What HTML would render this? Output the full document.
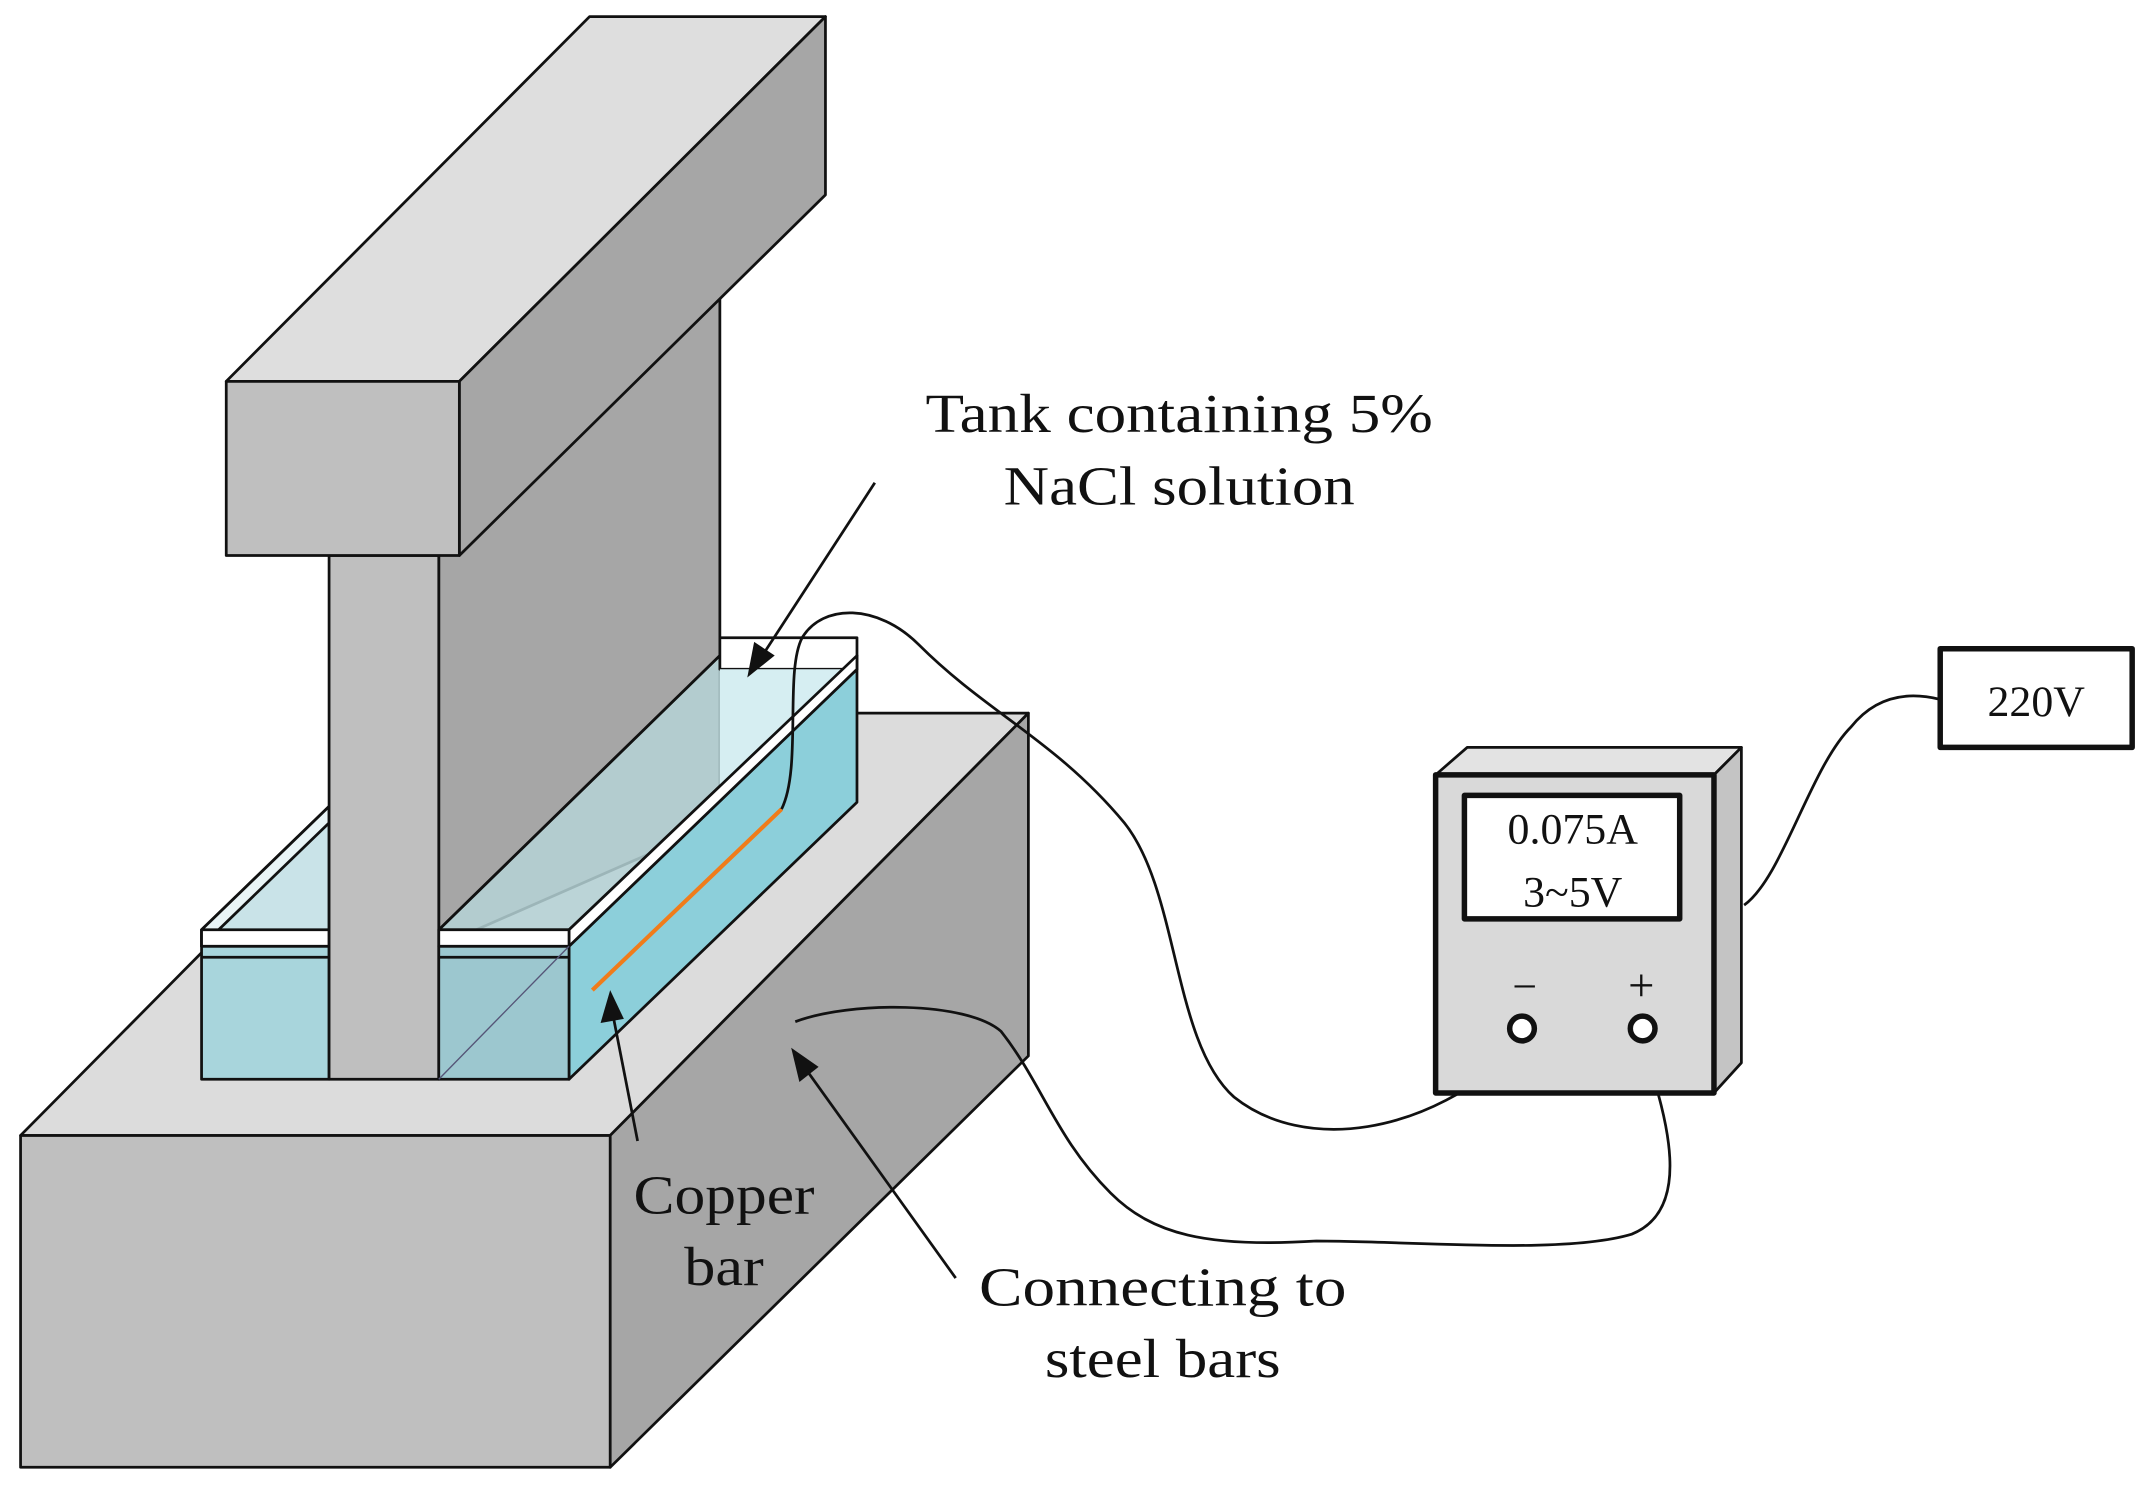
<!DOCTYPE html>
<html><head><meta charset="utf-8"><style>html,body{margin:0;padding:0;background:#fff}svg{display:block}</style></head>
<body>
<svg width="2150" height="1488" viewBox="0 0 1568 1085" xmlns="http://www.w3.org/2000/svg" font-family="Liberation Serif, serif">
<g stroke="#111" stroke-width="2" stroke-linejoin="round">
<!-- base -->
<polygon points="15,828 320,520 750,520 445,828" fill="#dcdcdc"/>
<polygon points="445,828 750,520 750,770 445,1070" fill="#a6a6a6"/>
<rect x="15" y="828" width="430" height="242" fill="#bfbfbf"/>
<!-- column dark side -->
<polygon points="320,405 525,215 525,600 320,690" fill="#a6a6a6"/>
<!-- left tank -->
<polygon points="147,678 240,588 240,690 147,690" fill="#c9e3e8"/>
<polygon points="147,678 240,588 240,600 147,690" fill="#fff" fill-opacity="0.6"/>
<rect x="147" y="690" width="93" height="97" fill="#a8d5dc"/>
<rect x="147" y="678" width="93" height="12" fill="#fff"/>
<line x1="147" y1="698" x2="240" y2="698"/>
<!-- column front -->
<rect x="240" y="405" width="80" height="382" fill="#bfbfbf"/>
<!-- right tank -->
<polygon points="320,678 525,478 625,478 415,678" fill="#b5d2d6" fill-opacity="0.85"/>
<polygon points="525,465 625,465 625,488 525,488" fill="#fff"/>
<polygon points="525,488 625,488 625,585 525,585" fill="#d6eef2" stroke="none"/>
<polygon points="415,690 625,488 625,585 415,787" fill="#8ccfda"/>
<polygon points="415,678 625,478 625,488 415,690" fill="#fff"/>
<rect x="320" y="690" width="95" height="97" fill="#9cc7cf"/>
<rect x="320" y="678" width="95" height="12" fill="#fff"/>
<line x1="320" y1="698" x2="415" y2="698"/>
<line x1="320" y1="787" x2="415" y2="690" stroke-width="1" stroke="#557"/>
<line x1="320" y1="678" x2="525" y2="478" />
</g>
<!-- beam -->
<g stroke="#111" stroke-width="2" stroke-linejoin="round">
<polygon points="165,278 430,12 602,12 335,278" fill="#dedede"/>
<polygon points="335,278 602,12 602,142 335,405" fill="#a6a6a6"/>
<rect x="165" y="278" width="170" height="127" fill="#bfbfbf"/>
</g>
<!-- copper bar -->
<line x1="432" y1="722" x2="570" y2="590" stroke="#f07c1a" stroke-width="3"/>
<!-- wires -->
<g fill="none" stroke="#111" stroke-width="2">
<path d="M570,590 C585,560 572,490 585,465 C600,440 640,440 670,470 C720,520 770,540 820,600 C860,650 855,760 900,800 C950,840 1040,830 1110,762"/>
<path d="M1198,760 C1210,800 1240,880 1190,900 C1140,915 1030,905 960,905 C880,910 840,900 810,870 C770,830 760,790 730,752 C705,730 620,730 580,745"/>
<path d="M1272,660 C1300,640 1320,560 1350,530 C1370,505 1395,505 1415,510"/>
<line x1="638" y1="352" x2="556" y2="478"/>
<line x1="465" y1="832" x2="447" y2="740"/>
<line x1="697" y1="932" x2="588" y2="780"/>
</g>
<g fill="#111">
<polygon points="545,494 550,468 565,478"/>
<polygon points="445,722 438,746 455,743"/>
<polygon points="577,764 583,789 597,778"/>
</g>
<!-- meter -->
<g stroke="#111" stroke-linejoin="round">
<polygon points="1047,565 1070,545 1270,545 1250,565" fill="#e3e3e3" stroke-width="2"/>
<polygon points="1250,565 1270,545 1270,775 1250,797" fill="#c4c4c4" stroke-width="2"/>
<rect x="1047" y="565" width="203" height="232" fill="#d9d9d9" stroke-width="4"/>
<rect x="1068" y="580" width="157" height="90" fill="#fff" stroke-width="4"/>
<circle cx="1110" cy="750" r="9" fill="#fff" stroke-width="4"/>
<circle cx="1198" cy="750" r="9" fill="#fff" stroke-width="4"/>
<rect x="1415" y="473" width="140" height="72" fill="#fff" stroke-width="4"/>
</g>
<g fill="#111" text-anchor="middle">
<text x="1147" y="615" font-size="32">0.075A</text>
<text x="1147" y="661" font-size="32">3~5V</text>
<text x="1112" y="730" font-size="32">−</text>
<text x="1197" y="730" font-size="34">+</text>
<text x="1485" y="522" font-size="32">220V</text>
<text x="860" y="315" font-size="40" textLength="370" lengthAdjust="spacingAndGlyphs">Tank containing 5%</text>
<text x="860" y="368" font-size="40" textLength="256" lengthAdjust="spacingAndGlyphs">NaCl solution</text>
<text x="528" y="885" font-size="40" textLength="132" lengthAdjust="spacingAndGlyphs">Copper</text>
<text x="528" y="937" font-size="40" textLength="58" lengthAdjust="spacingAndGlyphs">bar</text>
<text x="848" y="952" font-size="40" textLength="268" lengthAdjust="spacingAndGlyphs">Connecting  to</text>
<text x="848" y="1004" font-size="40" textLength="172" lengthAdjust="spacingAndGlyphs">steel bars</text>
</g>
</svg>
</body></html>
